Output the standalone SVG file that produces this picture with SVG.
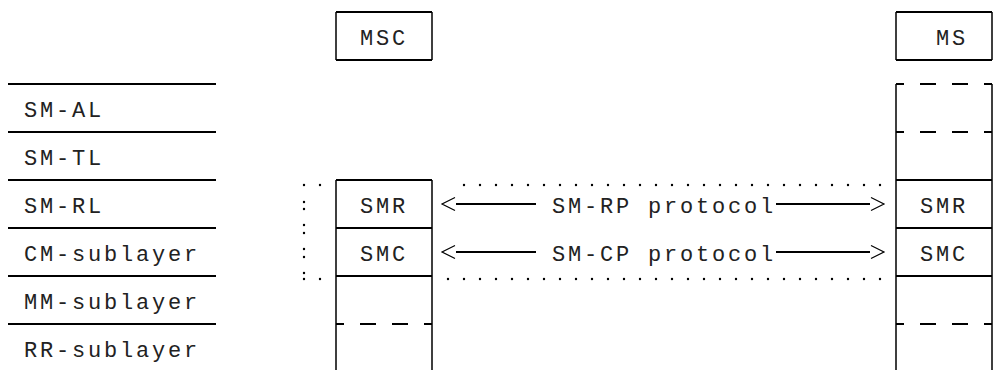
<svg xmlns="http://www.w3.org/2000/svg" width="998" height="370" viewBox="0 0 998 370">
<style>
text{font-family:"Liberation Mono","Courier New",monospace;font-size:22px;letter-spacing:2.8px;fill:#222}
.h{stroke:#000;stroke-width:2;fill:none}
.v{stroke:#000;stroke-width:1.5;fill:none}
.dots{stroke:#000;stroke-width:2.4;stroke-linecap:round;fill:none}
.line{stroke:#000;stroke-width:2;fill:none}
.chev{stroke:#000;stroke-width:1.2;fill:none}
</style>
<rect width="998" height="370" fill="#fff"/>
<g id="layers">
  <path class="h" d="M8 84H216M8 132H216M8 180H216M8 228H216M8 276H216M8 324H216"/>
  <text x="24" y="117">SM-AL</text>
  <text x="24" y="165">SM-TL</text>
  <text x="24" y="213">SM-RL</text>
  <text x="24" y="261">CM-sublayer</text>
  <text x="24" y="309">MM-sublayer</text>
  <text x="24" y="357">RR-sublayer</text>
</g>
<g id="node-msc">
  <path class="h" d="M336 12H432M336 60H432"/>
  <path class="v" d="M336 12V60M432 12V60"/>
  <text x="360" y="45">MSC</text>
</g>
<g id="node-ms">
  <path class="h" d="M896 12H992M896 60H992"/>
  <path class="v" d="M896 12V60M992 12V60"/>
  <text x="936" y="45">MS</text>
</g>
<g id="stack-msc">
  <path class="v" d="M336 180V370M432 180V370"/>
  <path class="h" d="M336 180H432M336 228H432M336 276H432M336 324h8M360 324h16M392 324h16M424 324h8"/>
  <text x="360" y="213">SMR</text>
  <text x="360" y="261">SMC</text>
</g>
<g id="stack-ms">
  <path class="v" d="M896 84V370M992 84V370"/>
  <path class="h" d="M896 84h8M920 84h16M952 84h16M984 84h8M896 132h8M920 132h16M952 132h16M984 132h8M896 180H992M896 228H992M896 276H992M896 324h8M920 324h16M952 324h16M984 324h8"/>
  <text x="920" y="213">SMR</text>
  <text x="920" y="261">SMC</text>
</g>
<g id="connectors">
  <path class="dots" d="M464 185h0M480 185h0M496 185h0M512 185h0M528 185h0M544 185h0M560 185h0M576 185h0M592 185h0M608 185h0M624 185h0M640 185h0M656 185h0M672 185h0M688 185h0M704 185h0M720 185h0M736 185h0M752 185h0M768 185h0M784 185h0M800 185h0M816 185h0M832 185h0M848 185h0M864 185h0M880 185h0"/>
  <path class="dots" d="M448 279h0M464 279h0M480 279h0M496 279h0M512 279h0M528 279h0M544 279h0M560 279h0M576 279h0M592 279h0M608 279h0M624 279h0M640 279h0M656 279h0M672 279h0M688 279h0M704 279h0M720 279h0M736 279h0M752 279h0M768 279h0M784 279h0M800 279h0M816 279h0M832 279h0M848 279h0M864 279h0M880 279h0"/>
  <path class="dots" d="M304 185h0M320 185h0M304 202h0M304 209h0M304 225h0M304 233h0M304 249h0M304 257h0M304 273h0M304 279h0M320 279h0"/>
  <path class="line" d="M456 204H536M776 204H870M456 252H536M776 252H870"/>
  <path class="chev" d="M455 197.5L442 204L455 210.5M871 197.5L884 204L871 210.5M455 245.5L442 252L455 258.5M871 245.5L884 252L871 258.5"/>
  <text x="552" y="213">SM-RP protocol</text>
  <text x="552" y="261">SM-CP protocol</text>
</g>
</svg>
